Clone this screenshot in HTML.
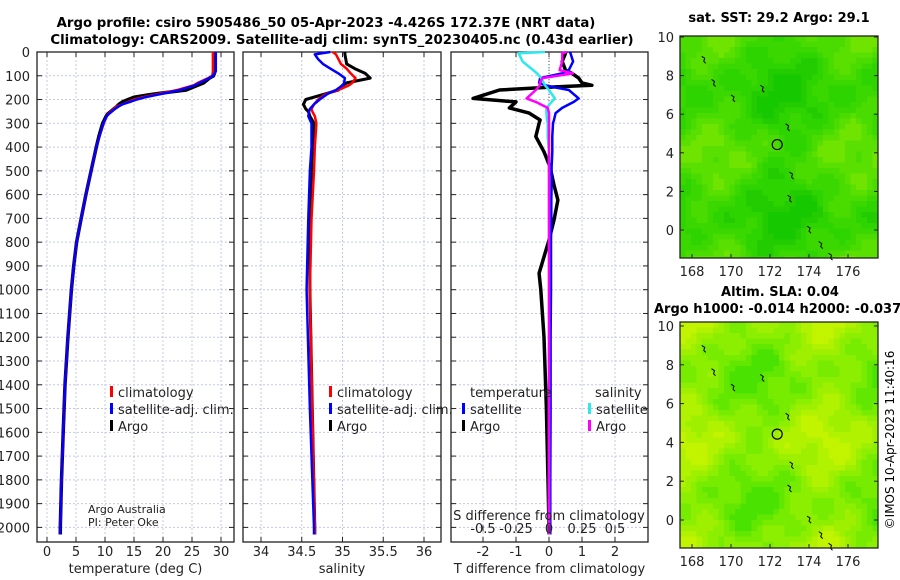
<!DOCTYPE html>
<html><head><meta charset="utf-8"><style>
html,body{margin:0;padding:0;background:#fff}
svg{display:block;font-family:"DejaVu Sans","Liberation Sans",sans-serif}
</style></head><body>
<svg id="s" width="900" height="580" viewBox="0 0 900 580" xmlns="http://www.w3.org/2000/svg">
<text x="326" y="27" text-anchor="middle" font-size="13.3" font-weight="bold">Argo profile: csiro 5905486_50 05-Apr-2023 -4.426S 172.37E (NRT data)</text>
<text x="342" y="44" text-anchor="middle" font-size="13.3" font-weight="bold">Climatology: CARS2009. Satellite-adj clim: synTS_20230405.nc (0.43d earlier)</text>
<text x="779" y="22" text-anchor="middle" font-size="13" font-weight="bold">sat. SST: 29.2 Argo: 29.1</text>
<text x="780" y="296" text-anchor="middle" font-size="13" font-weight="bold">Altim. SLA: 0.04</text>
<text x="654" y="313" font-size="13" font-weight="bold">Argo h1000: -0.014 h2000: -0.037</text>
<text transform="translate(894,440) rotate(-90)" text-anchor="middle" font-size="12">©IMOS 10-Apr-2023 11:40:16</text>
<g id="g"></g>
</svg>
<script>
// ---- data ----
const tDepth=[0,50,80,100,110,130,140,160,175,180,190,200,210,220,230,240,260,270,300,350,400,500,600,700,800,900,1000,1200,1400,1600,1800,2000,2030];
const tArgo =[29.0,29.0,29.0,28.7,28.0,27.0,26.0,24.0,19.0,17.5,15.0,14.0,13.0,12.4,12.0,11.5,10.5,10.2,9.6,9.0,8.5,7.6,6.7,5.9,5.1,4.6,4.2,3.6,3.1,2.8,2.5,2.3,2.3];
const tClim =[28.6,28.6,28.6,28.5,27.8,26.0,25.3,22.5,19.5,18.5,16.5,15.0,14.0,13.0,12.0,11.5,10.6,10.3,9.8,9.1,8.5,7.6,6.7,5.9,5.1,4.6,4.2,3.6,3.1,2.8,2.5,2.3,2.3];
const tSat  =[29.1,29.1,29.1,28.6,28.0,26.3,25.5,23.0,20.0,19.0,17.0,15.5,14.3,13.0,12.3,11.7,10.7,10.3,9.7,9.1,8.5,7.6,6.7,5.9,5.1,4.6,4.2,3.6,3.1,2.8,2.5,2.3,2.3];
const sDepth=[0,10,30,50,70,90,110,130,140,160,170,180,200,220,240,250,270,300,400,500,700,1000,1500,2000,2030];
const sArgo =[35.03,35.03,35.04,35.05,35.15,35.28,35.34,35.05,35.0,34.95,34.85,34.75,34.55,34.52,34.55,34.58,34.60,34.65,34.63,34.62,34.60,34.60,34.63,34.66,34.66];
const sClim =[34.88,34.92,34.95,34.98,35.05,35.1,35.16,35.12,35.08,34.95,34.85,34.78,34.70,34.65,34.62,34.63,34.66,34.68,34.66,34.65,34.62,34.60,34.63,34.66,34.66];
const sSat  =[34.85,34.66,34.70,34.76,34.85,34.95,35.03,35.02,35.0,34.92,34.85,34.80,34.72,34.65,34.60,34.59,34.58,34.62,34.62,34.60,34.58,34.56,34.60,34.65,34.65];
const dDepth=[0,5,40,76,90,110,130,140,147,160,195,210,235,257,286,300,356,420,483,560,623,707,791,931,1000,1200,1500,1800,2000,2030];
const dTArgo=[0.5,0.5,0.4,0.5,0.7,0.9,1.0,1.3,0.2,-1.5,-2.3,-1.0,-1.2,-0.6,-0.27,-0.3,-0.4,-0.15,0.03,0.15,0.27,0.15,0.0,-0.3,-0.25,-0.15,-0.08,-0.03,0.0,0.0];
const dTSat =[0.63,0.65,0.73,0.6,0.4,-0.27,-0.3,-0.1,0.1,0.6,0.9,0.75,0.4,0.2,0.15,0.12,0.1,0.1,0.08,0.08,0.07,0.07,0.06,0.06,0.06,0.05,0.05,0.04,0.04,0.04];
const dSSat =[-0.03,-0.23,-0.2,-0.12,-0.09,-0.06,-0.04,-0.03,-0.02,0.0,0.045,0.02,-0.02,-0.02,-0.015,-0.01,-0.01,0.0,0.0,0.0,0.0,0.0,0.0,0.0,0.0,0.0,0.0,0.0,0.0,0.0];
const dSArgo=[0.135,0.1,0.1,0.08,0.18,-0.05,-0.07,-0.07,-0.08,-0.1,-0.17,-0.1,-0.01,0.0,0.0,0.0,0.0,0.0,0.0,0.0,0.0,0.0,0.0,0.0,0.0,0.0,0.0,0.0,0.0,0.0];
const depthTicks=[0,100,200,300,400,500,600,700,800,900,1000,1100,1200,1300,1400,1500,1600,1700,1800,1900,2000];
const tTicks=[0,5,10,15,20,25,30];
const sTicks=[34,34.5,35,35.5,36];
const sTickLabels=["34","34.5","35","35.5","36"];
const dTTicks=[-2,-1,0,1,2];
const dSTicks=[-0.5,-0.25,0,0.25,0.5];
const dSTickLabels=["-0.5","-0.25","0","0.25","0.5"];
const lonTicks=[168,170,172,174,176];
const latTicks=[0,2,4,6,8,10];
const floatLon=172.37, floatLat=4.426;

const NS="http://www.w3.org/2000/svg";
const G=document.getElementById('g');
function el(tag,at,parent){const e=document.createElementNS(NS,tag);for(const k in at)e.setAttribute(k,at[k]);(parent||G).appendChild(e);return e;}
const yD=d=>52+d*0.2377;
const yTop=52,yBot=542;

function panel(x0,x1,xs,ticks,labels,name,ylabels,title){
  const g=el('g',{});
  
  
  ticks.forEach(v=>{el('line',{x1:xs(v),x2:xs(v),y1:yTop,y2:yBot,stroke:'#c4c8e6','stroke-dasharray':'2,2','stroke-width':1},g);});
  depthTicks.forEach(d=>{el('line',{x1:x0,x2:x1,y1:yD(d),y2:yD(d),stroke:'#c4c8e6','stroke-dasharray':'2,2','stroke-width':1},g);
    el('line',{x1:x0,x2:x0+5,y1:yD(d),y2:yD(d),stroke:'#222'},g);el('line',{x1:x1-5,x2:x1,y1:yD(d),y2:yD(d),stroke:'#222'},g);
    if(ylabels){const t=el('text',{x:30,y:yD(d)+5,'text-anchor':'end','font-size':13,fill:'#222'},g);t.textContent=d;
      
      }
  });
  ticks.forEach((v,i)=>{el('line',{x1:xs(v),x2:xs(v),y1:yBot,y2:yBot-5,stroke:'#222'},g);el('line',{x1:xs(v),x2:xs(v),y1:yTop,y2:yTop+5,stroke:'#222'},g);
    const t=el('text',{x:xs(v),y:556,'text-anchor':'middle','font-size':13,fill:'#222'},g);t.textContent=labels[i];
    
    });
  const tt=el('text',{x:(x0+x1)/2,y:573,'text-anchor':'middle','font-size':13,fill:'#222'},g);tt.textContent=title;
  
  
  el('rect',{x:x0,y:yTop,width:x1-x0,height:yBot-yTop,fill:'none',stroke:'#222','stroke-width':1.3},g);
  return g;
}
function line(g,xs,depths,vals,color,w,name){
  const p=el('polyline',{points:depths.map((d,i)=>xs(vals[i]).toFixed(1)+','+yD(d).toFixed(1)).join(' '),fill:'none',stroke:color,'stroke-width':w,'stroke-linejoin':'round'},g);
  
  
}
function legend(g,x,y,color,label,name){
  el('rect',{x:x,y:y-11,width:3,height:11,fill:color},g);
  const t=el('text',{x:x+8,y:y,'font-size':13,fill:'#222'},g);t.textContent=label;
  
  
}
// panel 1
const xT=v=>47+v*5.8;
const p1=panel(37,234,xT,tTicks,tTicks.map(String),'temperature-panel',true,'temperature (deg C)');
line(p1,xT,tDepth,tArgo,'#000',3.5,'temp-argo-line');
line(p1,xT,tDepth,tClim,'#f00',2.5,'temp-climatology-line');
line(p1,xT,tDepth,tSat,'#00f',2.5,'temp-satellite-line');
legend(p1,110,397,'#f00','climatology','legend-climatology');
legend(p1,110,414,'#00f','satellite-adj. clim.','legend-satellite-adj');
legend(p1,110,431,'#000','Argo','legend-argo');
let a=el('text',{x:88,y:513,'font-size':11,fill:'#222'},p1);a.textContent='Argo Australia';
let b=el('text',{x:88,y:526,'font-size':11,fill:'#222'},p1);b.textContent='PI: Peter Oke';
// panel 2
const xS=v=>261+(v-34)*81.5;
const p2=panel(243,441,xS,sTicks,sTickLabels,'salinity-panel',false,'salinity');
line(p2,xS,sDepth,sArgo,'#000',3,'sal-argo-line');
line(p2,xS,sDepth,sClim,'#f00',2.5,'sal-climatology-line');
line(p2,xS,sDepth,sSat,'#00f',2.5,'sal-satellite-line');
legend(p2,329,397,'#f00','climatology','legend-climatology-2');
legend(p2,329,414,'#00f','satellite-adj. clim.','legend-satellite-adj-2');
legend(p2,329,431,'#000','Argo','legend-argo-2');
// panel 3
const xDT=v=>549+v*33;
const xDS=v=>549+v*132;
const p3=panel(451,648,xDT,dTTicks,dTTicks.map(String),'difference-panel',false,'T difference from climatology');
el('line',{x1:549,x2:549,y1:yTop,y2:140,stroke:'#555','stroke-dasharray':'1,2'},p3);
line(p3,xDT,dDepth,dTArgo,'#000',3.5,'tdiff-argo-line');
line(p3,xDT,dDepth,dTSat,'#00f',2.5,'tdiff-satellite-line');
line(p3,xDS,dDepth,dSSat,'#2ee8ee',2.5,'sdiff-satellite-line');
line(p3,xDS,dDepth,dSArgo,'#f0f',2.5,'sdiff-argo-line');
let tl=el('text',{x:470,y:397,'font-size':13,fill:'#222'},p3);tl.textContent='temperature';
let sl=el('text',{x:595,y:397,'font-size':13,fill:'#222'},p3);sl.textContent='salinity';
legend(p3,462,414,'#00f','satellite','legend-t-satellite');
legend(p3,462,431,'#000','Argo','legend-t-argo');
legend(p3,588,414,'#2ee8ee','satellite','legend-s-satellite');
legend(p3,588,431,'#f0f','Argo','legend-s-argo');
let st=el('text',{x:549,y:520,'text-anchor':'middle','font-size':13,fill:'#222'},p3);st.textContent='S difference from climatology';


dSTicks.forEach((v,i)=>{el('line',{x1:xDS(v),x2:xDS(v),y1:yD(2000)+4,y2:yD(2000)-2,stroke:'#222'},p3);
  const t=el('text',{x:xDS(v),y:533,'text-anchor':'middle','font-size':13,fill:'#222'},p3);t.textContent=dSTickLabels[i];
  
  });

// maps
function map(y0,y1,lat10y,lat0y,name,pal,seed){
  const x0=680,x1=878;
  const g=el('g',{});
  
  
  const cs=5.5;
  for(let yy=y0;yy<y1;yy+=cs){for(let xx=x0;xx<x1;xx+=cs){
    const n=Math.sin(xx*0.045+seed)+Math.cos(yy*0.05-seed*1.3)+0.6*Math.sin((xx+yy)*0.09+seed*2)+0.4*Math.cos((xx-yy)*0.13);
    const k=Math.max(0,Math.min(pal.length-1,Math.floor((n+2.4)/4.8*pal.length)));
    el('rect',{x:xx,y:yy,width:Math.min(cs,x1-xx)+0.3,height:Math.min(cs,y1-yy)+0.3,fill:pal[k]},g);
  }}
  const xL=v=>692+(v-168)*19.5;
  const yL=v=>lat0y+(lat10y-lat0y)*v/10;
  [[172.8,5.5],[173,3],[172.9,1.8],[173.9,0.2],[174.5,-0.6],[175,-1.2],[171.5,7.5],[169,7.8],[170,7],[168.5,9]].forEach(p=>{
    el('path',{d:`M${xL(p[0])},${yL(p[1])} l3,2 l-1,3 l2,2`,stroke:'#000',fill:'none','stroke-width':1},g);});
  el('rect',{x:x0,y:y0,width:x1-x0,height:y1-y0,fill:'none',stroke:'#222','stroke-width':1.3},g);
  const c=el('circle',{cx:xL(floatLon),cy:yL(floatLat),r:5,fill:'none',stroke:'#000','stroke-width':1.2},g);
  
  
  lonTicks.forEach(v=>{el('line',{x1:xL(v),x2:xL(v),y1:y1,y2:y1-4,stroke:'#222'},g);
    const t=el('text',{x:xL(v),y:y1+18,'text-anchor':'middle','font-size':13,fill:'#222'},g);t.textContent=v;
    
    });
  latTicks.forEach(v=>{el('line',{x1:x0,x2:x0+4,y1:yL(v),y2:yL(v),stroke:'#222'},g);el('line',{x1:x1,x2:x1-4,y1:yL(v),y2:yL(v),stroke:'#222'},g);
    const t=el('text',{x:674,y:yL(v)+5,'text-anchor':'end','font-size':13,fill:'#222'},g);t.textContent=v;
    
    });
}
map(36,258,37,230,'sst-map',['#16c800','#22cc00','#2ed400','#3ad800','#4adc00','#5ae000','#6ee400'],1.0);
map(322,548,326,520,'sla-map',['#4ae200','#62e800','#78ec00','#8cee00','#9ef000','#b0f200','#c2f400'],2.3);
</script>
</body></html>
